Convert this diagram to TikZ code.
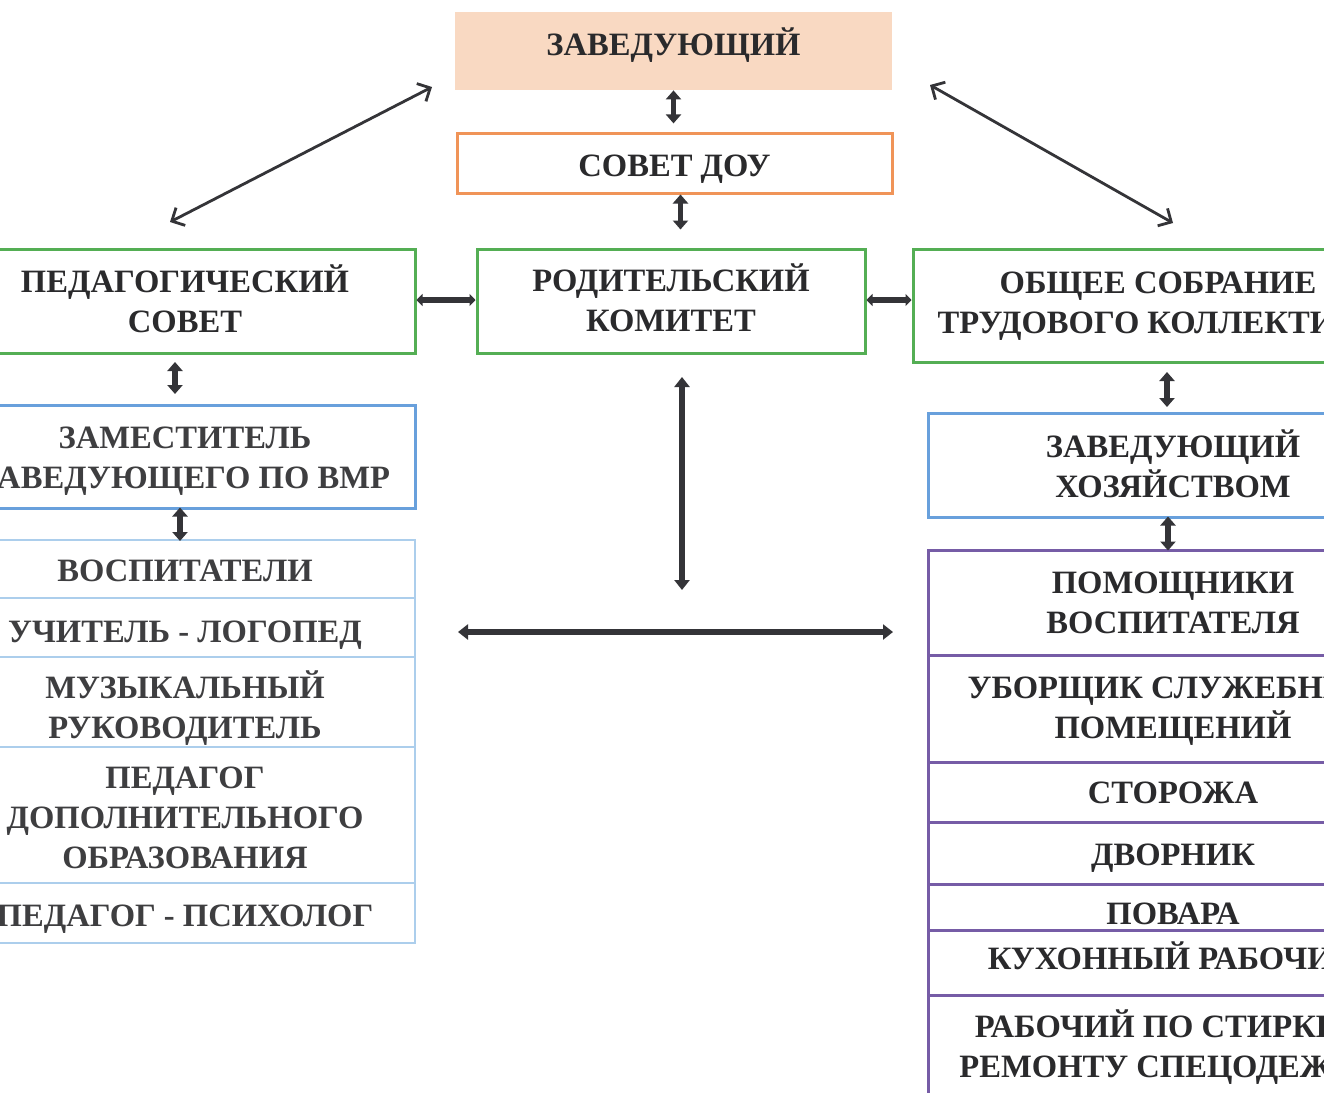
\documentclass[tikz,border=0pt]{standalone}
\usepackage{fontspec}
\setmainfont{Liberation Serif}
\usetikzlibrary{arrows.meta,calc}
\definecolor{peach}{RGB}{249,217,194}
\definecolor{orng}{RGB}{240,148,88}
\definecolor{grn}{RGB}{84,174,84}
\definecolor{blu}{RGB}{104,160,220}
\definecolor{lblu}{RGB}{172,206,236}
\definecolor{purp}{RGB}{118,92,166}
\definecolor{txt}{RGB}{42,42,44}
\definecolor{ltxt}{RGB}{62,62,64}
\definecolor{arr}{RGB}{52,52,56}
\tikzset{
  box/.style={rectangle, inner sep=0pt, text=txt,
    font=\fontsize{16.3}{20}\selectfont\bfseries},
  gbox/.style={box, draw=grn, line width=1.5pt},
  bbox/.style={box, draw=blu, line width=1.5pt},
  lbox/.style={box, draw=lblu, line width=1pt, minimum width=230pt, text=ltxt},
  pbox/.style={box, draw=purp, line width=1.5pt, minimum width=245pt},
  thk/.style={draw=arr, line width=2.6pt, {Triangle[width=7.5pt,length=4.5pt]}-{Triangle[width=7.5pt,length=4.5pt]}},
  hthk/.style={draw=arr, line width=3pt, {Triangle[width=6pt,length=3pt]}-{Triangle[width=6pt,length=3pt]}},
  lthk/.style={draw=arr, line width=3pt, {Triangle[width=7.5pt,length=5pt]}-{Triangle[width=7.5pt,length=5pt]}},
  thin/.style={draw=arr, line width=1.4pt, {Straight Barb[length=5pt,width=10pt]}-{Straight Barb[length=5pt,width=10pt]}}
}
\begin{document}
\begin{tikzpicture}[x=0.5pt,y=-0.5pt]
\useasboundingbox (0,0) rectangle (1324,1093);
\clip (0,0) rectangle (1324,1093);
\fill[white] (0,0) rectangle (1324,1093);

% top
\node[box, fill=peach, minimum width=218.5pt, minimum height=39pt] (zav) at (673.5,51)
  {\raisebox{1.6pt}[\height][\depth]{\begin{tabular}{@{}c@{}}ЗАВЕДУЮЩИЙ\end{tabular}}};
\node[box, draw=orng, line width=1.5pt, minimum width=217.5pt, minimum height=30pt] (sov) at (674.5,163)
  {\raisebox{-2.9pt}[\height][\depth]{\begin{tabular}{@{}c@{}}СОВЕТ ДОУ\end{tabular}}};

% green row
\node[gbox, minimum width=230pt, minimum height=52pt] (ped) at (185,301)
  {\raisebox{-1.9pt}[\height][\depth]{\begin{tabular}{@{}c@{}}ПЕДАГОГИЧЕСКИЙ\\СОВЕТ\end{tabular}}};
\node[gbox, minimum width=194pt, minimum height=52pt] (rod) at (671,301)
  {\raisebox{-1.4pt}[\height][\depth]{\begin{tabular}{@{}c@{}}РОДИТЕЛЬСКИЙ\\КОМИТЕТ\end{tabular}}};
\node[gbox, minimum width=245pt, minimum height=56.5pt] (obs) at (1158,305.5)
  {\raisebox{0pt}[\height][\depth]{\begin{tabular}{@{}c@{}}ОБЩЕЕ СОБРАНИЕ\\ТРУДОВОГО КОЛЛЕКТИВА\end{tabular}}};

% left column
\node[bbox, minimum width=230pt, minimum height=51.5pt, text=ltxt] (zam) at (185,456.5)
  {\raisebox{-1.9pt}[\height][\depth]{\begin{tabular}{@{}c@{}}ЗАМЕСТИТЕЛЬ\\ЗАВЕДУЮЩЕГО ПО ВМР\end{tabular}}};
\node[lbox, minimum height=29pt] (vosp) at (185,569)
  {\raisebox{-2.4pt}[\height][\depth]{\begin{tabular}{@{}c@{}}ВОСПИТАТЕЛИ\end{tabular}}};
\node[lbox, minimum height=29.5pt] (uch) at (185,627.5)
  {\raisebox{-3.6pt}[\height][\depth]{\begin{tabular}{@{}c@{}}УЧИТЕЛЬ - ЛОГОПЕД\end{tabular}}};
\node[lbox, minimum height=45pt] (muz) at (185,702)
  {\raisebox{-4.4pt}[\height][\depth]{\begin{tabular}{@{}c@{}}МУЗЫКАЛЬНЫЙ\\РУКОВОДИТЕЛЬ\end{tabular}}};
\node[lbox, minimum height=68pt] (pdo) at (185,815)
  {\raisebox{-2.9pt}[\height][\depth]{\begin{tabular}{@{}c@{}}ПЕДАГОГ\\ДОПОЛНИТЕЛЬНОГО\\ОБРАЗОВАНИЯ\end{tabular}}};
\node[lbox, minimum height=30pt] (psi) at (185,913)
  {\raisebox{-2.9pt}[\height][\depth]{\begin{tabular}{@{}c@{}}ПЕДАГОГ - ПСИХОЛОГ\end{tabular}}};

% right column
\node[bbox, minimum width=245pt, minimum height=52pt] (hoz) at (1173,465)
  {\raisebox{-2.4pt}[\height][\depth]{\begin{tabular}{@{}c@{}}ЗАВЕДУЮЩИЙ\\ХОЗЯЙСТВОМ\end{tabular}}};
\node[pbox, minimum height=52.5pt] (pom) at (1173,602.5)
  {\raisebox{-1.4pt}[\height][\depth]{\begin{tabular}{@{}c@{}}ПОМОЩНИКИ\\ВОСПИТАТЕЛЯ\end{tabular}}};
\node[pbox, minimum height=53.5pt] (ubo) at (1173,708.5)
  {\raisebox{-1.2pt}[\height][\depth]{\begin{tabular}{@{}c@{}}УБОРЩИК СЛУЖЕБНЫХ\\ПОМЕЩЕНИЙ\end{tabular}}};
\node[pbox, minimum height=30pt] (sto) at (1173,792)
  {\raisebox{-1.9pt}[\height][\depth]{\begin{tabular}{@{}c@{}}СТОРОЖА\end{tabular}}};
\node[pbox, minimum height=31pt] (dvo) at (1173,853)
  {\raisebox{-2.4pt}[\height][\depth]{\begin{tabular}{@{}c@{}}ДВОРНИК\end{tabular}}};
\node[pbox, minimum height=23pt] (pov) at (1173,907)
  {\raisebox{-4.9pt}[\height][\depth]{\begin{tabular}{@{}c@{}}ПОВАРА\end{tabular}}};
\node[pbox, minimum height=32.5pt] (kuh) at (1173,962.5)
  {\raisebox{0.3pt}[\height][\depth]{\begin{tabular}{@{}c@{}}КУХОННЫЙ РАБОЧИЙ\end{tabular}}};
\node[pbox, minimum height=52.5pt] (rab) at (1173,1047.5)
  {\raisebox{-1.2pt}[\height][\depth]{\begin{tabular}{@{}c@{}}РАБОЧИЙ ПО СТИРКЕ И\\РЕМОНТУ СПЕЦОДЕЖДЫ\end{tabular}}};

% free connector ends
\coordinate (dl1) at (432,87);
\coordinate (dl2) at (170,222);
\coordinate (dr1) at (930,85);
\coordinate (dr2) at (1173,223);
\coordinate (lv1) at (175,362);
\coordinate (lv2) at (175,394);
\coordinate (rv1) at (1167,372);
\coordinate (rv2) at (1167,407);
\coordinate (mv1) at (682,377);
\coordinate (mv2) at (682,590);
\coordinate (mh1) at (458,632);
\coordinate (mh2) at (893,632);

% connectors
\draw[thk] (zav.south) -- ++(0,33);
\draw[thk] ([xshift=3pt]sov.south) -- ++(0,35);
\draw[hthk] ([yshift=0.5pt]ped.east) -- ([yshift=0.5pt]ped.east -| rod.west);
\draw[hthk] ([yshift=0.5pt]rod.east) -- ([yshift=0.5pt]rod.east -| obs.west);
\draw[thin] (dl1) -- (dl2);
\draw[thin] (dr1) -- (dr2);
\draw[thk] (lv1) -- (lv2);
\draw[thk] ([xshift=-2.5pt,yshift=1pt]zam.south) -- ([xshift=-2.5pt,yshift=-1pt]vosp.north);
\draw[thk] (rv1) -- (rv2);
\draw[thk] ([xshift=-2.5pt,yshift=1pt]hoz.south) -- ([xshift=-2.5pt,yshift=-1pt]pom.north);
\draw[lthk] (mv1) -- (mv2);
\draw[lthk] (mh1) -- (mh2);
\end{tikzpicture}
\end{document}
